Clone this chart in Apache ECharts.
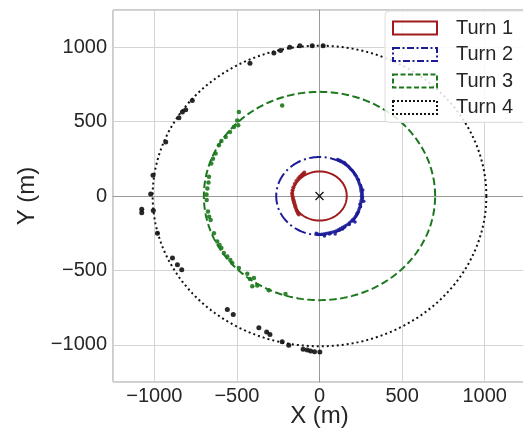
<!DOCTYPE html>
<html>
<head>
<meta charset="utf-8">
<script src="https://cdn.jsdelivr.net/npm/echarts@6/dist/echarts.min.js"></script>
<style>html,body{margin:0;padding:0;background:#fff;}#c{width:523px;height:430px;}</style>
</head>
<body>
<div id="c"></div>
<script>
// ---- data ----
const turnNames = ['Turn 1', 'Turn 2', 'Turn 3', 'Turn 4'];
const turnRadii = [165, 262, 700, 1010];
const centerX = [0];
const centerY = [0];

const turn1X = [-92, -98, -105, -112, -120, -128, -140, -150, -158, -163, -166, -164, -160, -156, -152, -148, -145, -140, -135, -130, -125];
const turn1Y = [158, 150, 142, 135, 128, 118, 100, 80, 58, 38, 18, 2, -14, -30, -46, -62, -76, -92, -104, -116, -124];

const turn2X = [110, 118, 125, 132, 140, 145, 155, 160, 168, 175, 182, 190, 198, 205, 212, 218, 225, 230, 236, 240, 244, 248, 250, 252, 255, 254, 256, 252, 250, 248, 244, 240, 236, 230, 225, 218, 210, 200, 192, 182, 172, 160, 150, 138, 125, 112, 100, 88, 75, 62, 50, 38, 25, 12, 0, -12, -20, 235, 245, 228, 120, 60, 150, 260, 205, 180, 268, 262, 215, 140, 95, 30];
const turn2Y = [245, 240, 238, 232, 228, 222, 218, 212, 205, 198, 190, 180, 172, 162, 150, 140, 128, 115, 100, 88, 75, 60, 45, 30, 15, 0, -15, -30, -45, -60, -75, -88, -100, -112, -125, -138, -150, -160, -170, -180, -190, -198, -205, -212, -220, -228, -235, -240, -243, -247, -250, -252, -255, -257, -258, -255, -250, 110, -55, -118, -228, -255, 225, -10, -168, -192, -35, 40, -175, -222, -255, -268];

const turn3X = [-226, -488, -498, -492, -518, -542, -568, -594, -609, -629, -645, -655, -669, -672, -679, -684, -683, -675, -668, -659, -639, -619, -605, -594, -579, -558, -540, -528, -488, -437, -421, -397, -377, -407, -307, -206];
const turn3Y = [609, 564, 508, 475, 464, 430, 397, 370, 341, 285, 250, 219, 129, 90, 51, 10, -27, -105, -140, -161, -250, -306, -330, -350, -383, -406, -430, -450, -484, -522, -557, -551, -602, -607, -633, -658];

const turn4X = [-421, -276, -236, -180, -119, -44, 22, -770, -810, -830, -851, -931, -1008, -1022, -1076, -1076, -1006, -981, -890, -860, -834, -558, -522, -367, -320, -300, -226, -186, -99, -74, -54, -30, 2];
const turn4Y = [892, 961, 977, 999, 1010, 1010, 1010, 642, 580, 564, 526, 363, 140, 13, -89, -112, -98, -250, -417, -462, -495, -763, -796, -885, -914, -930, -979, -1003, -1030, -1035, -1041, -1046, -1048];

const axisMin = -1250, axisMax = 1250;

// ---- styles ----
const colors = ['#a01c1c', '#1c1c9a', '#1c781c', '#111111'];
const dashes = [null, [12, 3.5, 2, 3.5], [7.5, 3.5], [2, 3]];
const legendBorder = ['solid', [7, 2.5, 2, 2.5], [5, 2.5], [2, 2]];
const FONT = 'Liberation Sans, Arial, sans-serif';
const TXT = '#262626';

function zip(xs, ys) { return xs.map((x, i) => [x, ys[i]]); }
function minusFmt(v) { return String(v).replace('-', '\u2212'); }

function circleSeries(i) {
  return {
    type: 'custom', name: turnNames[i], silent: true, z: 2,
    data: [[0, 0, turnRadii[i]]], encode: { x: 0, y: 1 },
    itemStyle: { color: colors[i] },
    renderItem: function (params, api) {
      const r = api.value(2);
      const pts = [];
      for (let a = 0; a <= 360; a += 1.5) {
        const t = a * Math.PI / 180;
        pts.push(api.coord([r * Math.cos(t), r * Math.sin(t)]));
      }
      return {
        type: 'polyline', shape: { points: pts },
        style: { stroke: colors[i], lineWidth: 2, lineDash: dashes[i], fill: null }
      };
    }
  };
}

const pts = [zip(turn1X, turn1Y), zip(turn2X, turn2Y), zip(turn3X, turn3Y), zip(turn4X, turn4Y)];
const ptSize = [4, 3.5, 4.5, 5];

const series = [];
for (let i = 0; i < 4; i++) series.push(circleSeries(i));
for (let i = 0; i < 4; i++) {
  series.push({
    type: 'scatter', name: turnNames[i] + ' pts', data: pts[i], symbolSize: ptSize[i], z: 3,
    itemStyle: { color: colors[i], opacity: 0.9 }, silent: true
  });
}
series.push({
  type: 'custom', name: 'center', silent: true, z: 4,
  data: zip(centerX, centerY), encode: { x: 0, y: 1 },
  renderItem: function (params, api) {
    const c = api.coord([api.value(0), api.value(1)]);
    const s = 4;
    return {
      type: 'group', children: [
        { type: 'line', shape: { x1: c[0] - s, y1: c[1] - s, x2: c[0] + s, y2: c[1] + s }, style: { stroke: '#111', lineWidth: 1.3 } },
        { type: 'line', shape: { x1: c[0] - s, y1: c[1] + s, x2: c[0] + s, y2: c[1] - s }, style: { stroke: '#111', lineWidth: 1.3 } }
      ]
    };
  }
});

const axisCommon = {
  type: 'value', min: axisMin, max: axisMax, splitNumber: 5,
  axisLine: { show: true, lineStyle: { color: '#9a9a9a', width: 1 } },
  axisTick: { show: false },
  splitLine: { show: true, lineStyle: { color: '#d4d4d4', width: 1 } },
  axisLabel: { color: TXT, fontSize: 20, fontFamily: FONT, formatter: minusFmt, showMinLabel: false, showMaxLabel: false },
  nameLocation: 'middle',
  nameMoveOverlap: false,
  nameTextStyle: { color: TXT, fontSize: 24, fontFamily: FONT }
};

const option = {
  animation: false,
  backgroundColor: '#fff',
  grid: { left: 113, top: 10, width: 413, height: 372, outerBoundsMode: 'none', containLabel: false, show: true, borderColor: '#9a9a9a', borderWidth: 1, backgroundColor: 'transparent' },
  xAxis: Object.assign({}, axisCommon, { name: 'X (m)', nameGap: 22, axisLabel: Object.assign({}, axisCommon.axisLabel, { margin: 4 }) }),
  yAxis: Object.assign({}, axisCommon, { name: 'Y (m)', nameGap: 74, nameRotate: 90, axisLabel: Object.assign({}, axisCommon.axisLabel, { margin: 6 }) }),
  legend: {
    orient: 'vertical', left: 385, top: 11,
    itemWidth: 44, itemHeight: 13, itemGap: 6.5,
    padding: [7, 40, 5, 7],
    backgroundColor: 'rgba(255,255,255,0.85)', borderColor: '#dddddd', borderWidth: 1, borderRadius: 4,
    textStyle: { color: TXT, fontSize: 20, fontFamily: FONT, padding: [0, 0, 0, 14] },
    data: turnNames.map((n, i) => ({
      name: n, icon: 'rect',
      itemStyle: { color: 'rgba(0,0,0,0)', borderColor: colors[i], borderWidth: 2, borderType: legendBorder[i] }
    }))
  },
  series: series
};

const chart = echarts.init(document.getElementById('c'), null, { renderer: 'canvas' });
chart.setOption(option);
</script>
</body>
</html>
